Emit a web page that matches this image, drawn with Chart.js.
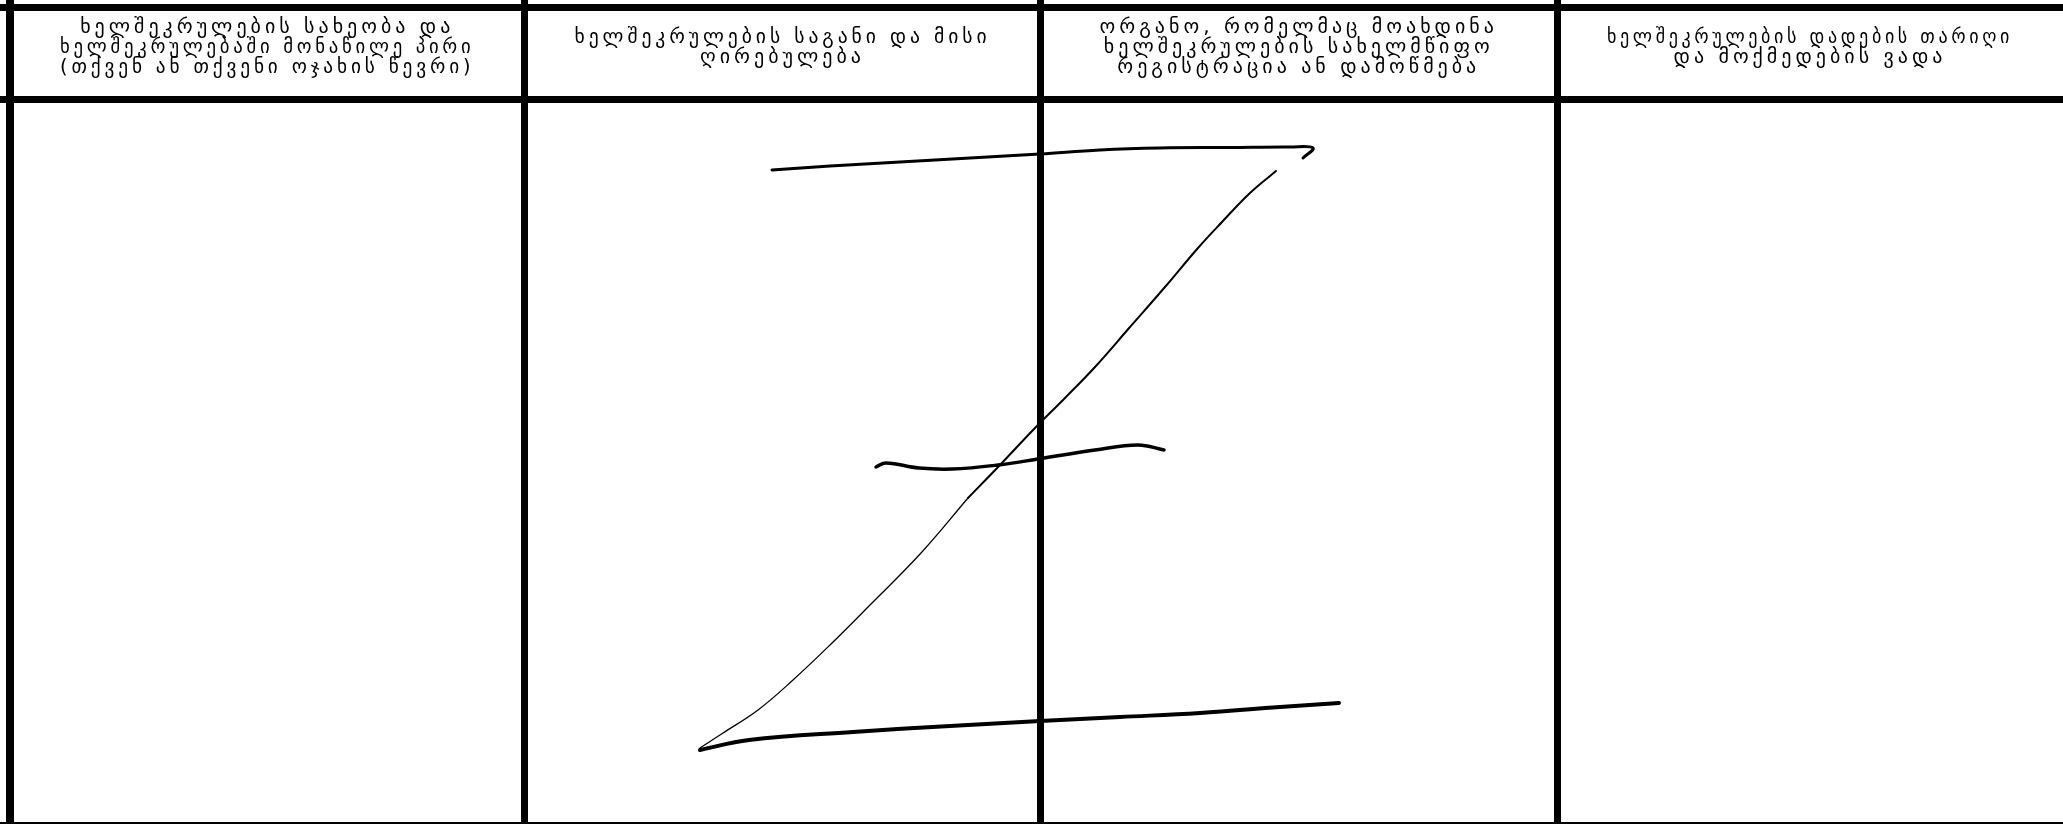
<!DOCTYPE html>
<html>
<head>
<meta charset="utf-8">
<script src="https://cdn.jsdelivr.net/npm/chart.js@4.4.0/dist/chart.umd.min.js"></script>
<style>
  html, body { margin: 0; padding: 0; background: #fff; }
  #wrap { width: 2063px; height: 824px; position: relative; }
</style>
</head>
<body>
<div id="wrap"><canvas id="grafico"></canvas></div>
<script>
const grafico = document.querySelector("#grafico")

// header text, one array per column, one string per line
const headers = [
    ["ხელშეკრულების სახეობა და", "ხელშეკრულებაში მონაწილე პირი", "(თქვენ ან თქვენი ოჯახის წევრი)"],
    ["ხელშეკრულების საგანი და მისი", "ღირებულება"],
    ["ორგანო, რომელმაც მოახდინა", "ხელშეკრულების სახელმწიფო", "რეგისტრაცია ან დამოწმება"],
    ["ხელშეკრულების დადების თარიღი", "და მოქმედების ვადა"]
]

// table rules (tick values on the two axes)
const colEdges = [10, 524.5, 1040.5, 1557]
const rowEdges = [7, 99, 822.5]

// the hand drawn "Z" strike, stroke by stroke
const topStrokeX = [772, 830, 900, 970, 1040, 1100, 1160, 1230, 1290, 1313, 1303]
const topStrokeY = [170, 166, 162, 158, 154, 150, 148, 147.5, 147, 148, 158]

const diagUpperX = [1276, 1250, 1222, 1198, 1165, 1130, 1095, 1065, 1035, 1000, 968]
const diagUpperY = [171, 193, 222, 248, 287, 327, 367, 398, 428, 465, 498]

const diagLowerX = [968, 921, 870, 830, 793, 758, 723, 700]
const diagLowerY = [498, 553, 605, 645, 680, 710, 733, 748]

const midStrokeX = [876, 886, 919, 952, 998, 1038, 1095, 1138, 1164]
const midStrokeY = [467, 463, 468, 469, 465, 459, 450, 445, 450]

const bottomStrokeX = [700, 749, 853, 950, 1040, 1120, 1200, 1280, 1339]
const bottomStrokeY = [750, 740, 732, 726, 721, 717, 713, 707, 703]

const pontos = (xs, ys) => xs.map((v, i) => ({ x: v, y: ys[i] }))

const traco = (xs, ys, largura) => ({
    data: pontos(xs, ys),
    showLine: true,
    borderColor: '#000',
    borderWidth: largura,
    borderCapStyle: 'round',
    borderJoinStyle: 'round',
    pointRadius: 0,
    tension: 0.4,
    fill: false
})

//draw the header text centred in each column
const headerText = {
    id: 'headerText',
    afterDraw(chart) {
        const { ctx, scales: { x, y } } = chart
        const top = y.getPixelForValue(rowEdges[0])
        const bottom = y.getPixelForValue(rowEdges[1])
        const meio = (top + bottom) / 2 - 5.5
        const lineH = 20
        ctx.save()
        ctx.fillStyle = '#000'
        ctx.font = '20px "DejaVu Sans"'
        ctx.letterSpacing = '4px'
        ctx.textAlign = 'center'
        ctx.textBaseline = 'middle'
        headers.forEach((linhas, i) => {
            const left = x.getPixelForValue(colEdges[i])
            const right = x.getPixelForValue(i + 1 < colEdges.length ? colEdges[i + 1] : x.max)
            const cx = (left + right) / 2
            const larg = right - left - 100
            linhas.forEach((t, j) => {
                ctx.fillText(t, cx, meio + (j - (linhas.length - 1) / 2) * lineH, larg)
            })
        })
        ctx.restore()
    }
}

new Chart(grafico, {
    type: 'scatter',
    data: {
        datasets: [
            traco(topStrokeX, topStrokeY, 3),
            traco(diagUpperX, diagUpperY, 2),
            traco(diagLowerX, diagLowerY, 1.3),
            traco(midStrokeX, midStrokeY, 3.5),
            traco(bottomStrokeX, bottomStrokeY, 4)
        ]
    },
    options: {
        responsive: true,
        maintainAspectRatio: false,
        animation: false,
        layout: { padding: 0 },
        plugins: {
            legend: { display: false },
            tooltip: { enabled: false }
        },
        scales: {
            x: {
                type: 'linear',
                min: 0,
                max: 2063,
                afterBuildTicks: (s) => { s.ticks = colEdges.map(v => ({ value: v })) },
                ticks: { display: false },
                border: { display: false },
                grid: {
                    drawTicks: false,
                    color: '#000',
                    lineWidth: (c) => c.index === 0 ? 8 : 7
                }
            },
            y: {
                type: 'linear',
                min: 0,
                max: 824,
                reverse: true,
                afterBuildTicks: (s) => { s.ticks = rowEdges.map(v => ({ value: v })) },
                ticks: { display: false },
                border: { display: false },
                grid: {
                    drawTicks: false,
                    color: '#000',
                    lineWidth: (c) => c.index === 2 ? 2 : 7
                }
            }
        }
    },
    plugins: [headerText]
});
</script>
</body>
</html>
